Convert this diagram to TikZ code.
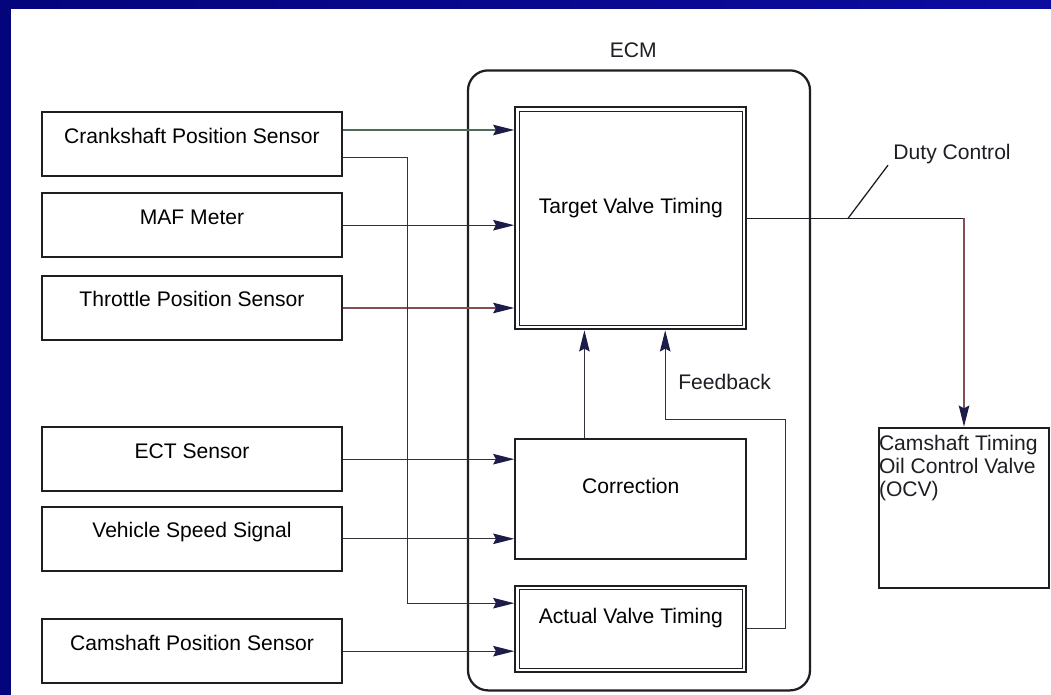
\documentclass[tikz,border=0pt]{standalone}
\usepackage{fontspec}
\setmainfont{Liberation Sans}
\usetikzlibrary{arrows.meta,calc}
\definecolor{Slide}{RGB}{4,4,124}
\definecolor{SlideHi}{RGB}{12,12,160}
\definecolor{Ink}{RGB}{30,30,36}
\definecolor{Wire}{RGB}{50,50,60}
\definecolor{WireG}{RGB}{80,108,88}
\definecolor{WireR}{RGB}{130,80,80}
\definecolor{Tip}{RGB}{28,28,72}

\begin{document}
\begin{tikzpicture}[font=\fontsize{15pt}{16.3pt}\selectfont,
  sensor/.style={draw=Ink,line width=1.4pt,minimum width=7.51cm,minimum height=1.6cm,inner sep=0pt,text height=.4cm,text depth=.45cm},
  block/.style={draw=Ink,line width=1.4pt,minimum width=5.78cm,inner sep=0pt,text height=.4cm,text depth=.65cm},
  inner/.style={draw=Ink,line width=.5pt},
  lbl/.style={inner sep=0pt,text=Ink},
  sig/.style={-{Stealth[length=15pt,width=7.5pt,inset=2pt,color=Tip]},line width=.8pt,Wire}]
\useasboundingbox (0,0) rectangle (26.275,17.35);
\shade[left color=Slide,right color=SlideHi] (-.1,-.1) rectangle (26.4,17.5);
\fill[white] (0.275,-.1) rectangle (26.4,17.125);
% ECM frame
\node[draw=Ink,line width=1.6pt,rounded corners=.5cm,minimum width=8.55cm,minimum height=15.5cm] (ecm) at (15.975,7.84) {};
\node[lbl,anchor=base] (ecmlbl) at (15.83,15.9) {ECM};
% sensors
\node[sensor] (crank) at (4.8,13.74) {Crankshaft Position Sensor};
\node[sensor] (maf) at (4.8,11.72) {MAF Meter};
\node[sensor] (tps) at (4.8,9.65) {Throttle Position Sensor};
\node[sensor] (ect) at (4.8,5.87) {ECT Sensor};
\node[sensor] (vss) at (4.8,3.88) {Vehicle Speed Signal};
\node[sensor] (cmp) at (4.8,1.07) {Camshaft Position Sensor};
% ECM blocks
\node[block,minimum height=5.55cm] (tvt) at (15.77,11.89) {Target Valve Timing};
\node[block,minimum height=3cm] (cor) at (15.77,4.88) {Correction};
\node[block,minimum height=2.15cm] (avt) at (15.77,1.63) {Actual Valve Timing};
\draw[inner] ([shift={(.12,.12)}]tvt.south west) rectangle ([shift={(-.12,-.12)}]tvt.north east);
\draw[inner] ([shift={(.12,.12)}]avt.south west) rectangle ([shift={(-.12,-.12)}]avt.north east);
% OCV
\node[draw=Ink,line width=1.4pt,minimum width=4.25cm,minimum height=4.02cm] (ocv) at (24.1,4.65) {};
\node[lbl,anchor=north west,align=left,inner xsep=.5pt,inner ysep=.2cm] (ocvtxt) at (ocv.north west) {Camshaft Timing\\Oil Control Valve\\(OCV)};
% inputs
\draw[sig,WireG] ([yshift=.36cm]crank.east) -- ([yshift=.36cm]crank.east -| tvt.west);
\draw[sig] (maf.east) -- (maf.east -| tvt.west);
\draw[sig,WireR] (tps.east) -- (tps.east -| tvt.west);
\draw[sig] (ect.east) -- (ect.east -| cor.west);
\draw[sig] (vss.east) -- (vss.east -| cor.west);
\draw[sig] ([yshift=-.33cm]crank.east) -- ++(1.6,0) |- ([yshift=.64cm]avt.west);
\draw[sig] (cmp.east) -- (cmp.east -| avt.west);
% correction and feedback
\draw[sig] ([xshift=-1.16cm]cor.north) -- ([xshift=-1.16cm]cor.north |- tvt.south);
\coordinate (fbr) at (19.63,6.87);
\coordinate (fbl) at (16.63,6.87);
\draw[sig] (avt.east) -| (fbr) -- (fbl) -- (fbl |- tvt.south);
\node[lbl,anchor=base west] (fbk) at (16.95,7.6) {Feedback};
% duty control output
\coordinate (oc) at (tvt.east -| ocv.north);
\draw[Ink,line width=.9pt] (tvt.east) -- (oc);
\draw[sig,WireR] (oc) -- (ocv.north);
\node[lbl,anchor=base west] (duty) at (22.33,13.35) {Duty Control};
\coordinate (dl) at (21.2,11.89);
\draw[Ink,line width=.9pt] (dl) -- ([shift={(-.13,-.13)}]duty.base west);
\end{tikzpicture}
\end{document}
